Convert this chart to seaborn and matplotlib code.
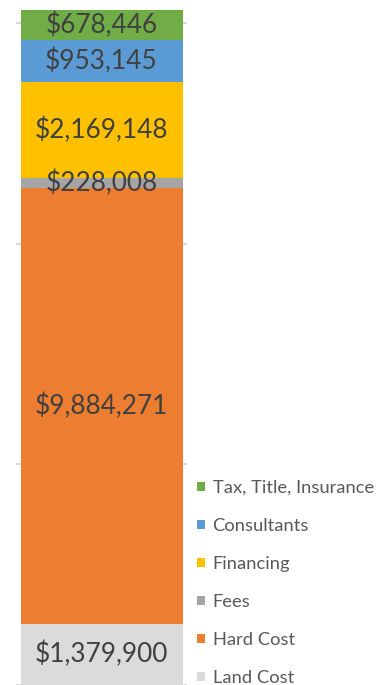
import matplotlib
matplotlib.use("Agg")
import matplotlib.pyplot as plt
from matplotlib.patches import Patch
import numpy as np
import pandas as pd
import seaborn as sns

# Cost components, bottom of the stack first
categories = ["Land Cost", "Hard Cost", "Fees", "Financing", "Consultants", "Tax, Title, Insurance"]
values = [1379900, 9884271, 228008, 2169148, 953145, 678446]
colors = ["#DBDBDB", "#ED7D31", "#A5A5A5", "#FFC000", "#5B9BD5", "#70AD47"]
group = ["Project"]

sns.set_theme(style="white")
plt.rcParams["font.family"] = ["Lato", "DejaVu Sans"]

fig = plt.figure(figsize=(3.88, 6.85), dpi=100)
ax = fig.add_axes([16 / 388, 0, 171 / 388, 1])

tops = np.cumsum(values)
bottoms = tops - np.array(values)

# Stacked bar: draw cumulative totals from the tallest down so each layer shows
for i in range(len(values) - 1, -1, -1):
    df = pd.DataFrame({"group": group, "total": [tops[i]]})
    sns.barplot(data=df, x="group", y="total", color=colors[i], saturation=1,
                width=162 / 171, ax=ax, zorder=2, edgecolor="none", linewidth=0)

ax.set_xlim(-0.5, 0.5)
ax.set_ylim(190000, 15527000)
ax.set_yticks([0, 5_000_000, 10_000_000, 15_000_000])
ax.yaxis.grid(True, color="#D9D9D9", linewidth=1.5, zorder=0)
ax.set_axisbelow(True)
ax.set_xticks([])
ax.set_yticklabels([])
ax.tick_params(left=False, bottom=False)
ax.set_xlabel("")
ax.set_ylabel("")
for s in ax.spines.values():
    s.set_visible(False)

for b, v in zip(bottoms, values):
    ax.text(0, b + v / 2, f"${v:,}", ha="center", va="center",
            fontsize=18.9, color="#404040", zorder=5)

handles = [Patch(facecolor=c, edgecolor="none") for c in colors][::-1]
labels = categories[::-1]
fig.legend(handles, labels, loc="upper left", bbox_to_anchor=(197 / 388, 1 - 480 / 685),
           frameon=False, fontsize=13.2, labelcolor="#595959",
           handlelength=0.45, handleheight=0.45, handletextpad=0.4,
           labelspacing=1.2, borderpad=0, borderaxespad=0)

fig.savefig("out.png", dpi=100)
